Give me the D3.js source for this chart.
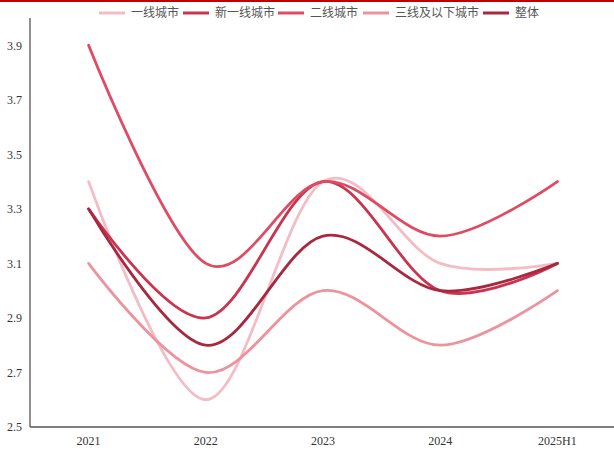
<!DOCTYPE html>
<html>
<head>
<meta charset="utf-8">
<script src="https://cdn.jsdelivr.net/npm/d3@7"></script>
<style>
  html, body { margin: 0; padding: 0; background: #fff; }
  svg { display: block; }
</style>
</head>
<body>
<svg id="chart" width="614" height="450"></svg>
<script>
// Categories and series
const years = ["2021", "2022", "2023", "2024", "2025H1"];
const seriesNames = ["一线城市", "新一线城市", "二线城市", "三线及以下城市", "整体"];
const tier1 = [3.4, 2.6, 3.4, 3.1, 3.1];
const newTier1 = [3.3, 2.9, 3.4, 3.0, 3.1];
const tier2 = [3.9, 3.1, 3.4, 3.2, 3.4];
const tier3Below = [3.1, 2.7, 3.0, 2.8, 3.0];
const overall = [3.3, 2.8, 3.2, 3.0, 3.1];
const yTicks = [2.5, 2.7, 2.9, 3.1, 3.3, 3.5, 3.7, 3.9];
const colors = ["#f4bcc4", "#c9344f", "#e04a63", "#ec939d", "#a8283f"];

const seriesValues = [tier1, newTier1, tier2, tier3Below, overall];

const svg = d3.select("#chart");
const W = 614, H = 450;
const plotLeft = 30, plotRight = 616, plotTop = 18, plotBottom = 427;

// thin red rule across the top edge
svg.append("rect").attr("x", 0).attr("y", 0).attr("width", W).attr("height", 2)
  .attr("fill", "#c00000");

const x = d3.scaleBand().domain(years).range([plotLeft, plotRight]);
const y = d3.scaleLinear().domain([2.5, 4.0]).range([plotBottom, plotTop]);

// axes
const xAxis = d3.axisBottom(x).tickSize(0).tickPadding(9);
const gx = svg.append("g").attr("transform", `translate(0,${plotBottom})`).call(xAxis);
gx.select(".domain").attr("stroke", "#555").attr("stroke-width", 1.3)
  .attr("d", `M${plotLeft},0H${W}`);
gx.selectAll("text").attr("font-family", "'Liberation Serif', 'Times New Roman', serif")
  .attr("font-size", 12).attr("fill", "#333");

const yAxis = d3.axisLeft(y).tickValues(yTicks).tickSize(0).tickPadding(8)
  .tickFormat(d3.format(".1f"));
const gy = svg.append("g").attr("transform", `translate(${plotLeft},0)`).call(yAxis);
gy.select(".domain").attr("stroke", "#555").attr("stroke-width", 1.3)
  .attr("d", `M0,${plotTop}V${plotBottom}`);
gy.selectAll("text").attr("font-family", "'Liberation Serif', 'Times New Roman', serif")
  .attr("font-size", 12).attr("fill", "#333");

// smoothed series lines
const line = d3.line()
  .x((d, i) => x(years[i]) + x.bandwidth() / 2)
  .y(d => y(d))
  .curve(d3.curveCardinal.tension(0));

seriesValues.forEach((vals, k) => {
  svg.append("path")
    .datum(vals)
    .attr("d", line)
    .attr("fill", "none")
    .attr("stroke", colors[k])
    .attr("stroke-width", 2.8)
    .attr("stroke-linecap", "round")
    .attr("stroke-linejoin", "round");
});

// legend
const legendX = [99, 183, 278, 363, 483];
const legend = svg.append("g");
seriesNames.forEach((name, k) => {
  const g = legend.append("g").attr("transform", `translate(${legendX[k]},13)`);
  g.append("line").attr("x1", 0).attr("x2", 26).attr("y1", 0).attr("y2", 0)
    .attr("stroke", colors[k]).attr("stroke-width", 3);
  g.append("text").attr("x", 32).attr("y", 0).attr("dy", "0.35em")
    .attr("font-family", "'Noto Sans CJK SC', sans-serif")
    .attr("font-size", 12).attr("fill", "#555")
    .text(name);
});
</script>
</body>
</html>
